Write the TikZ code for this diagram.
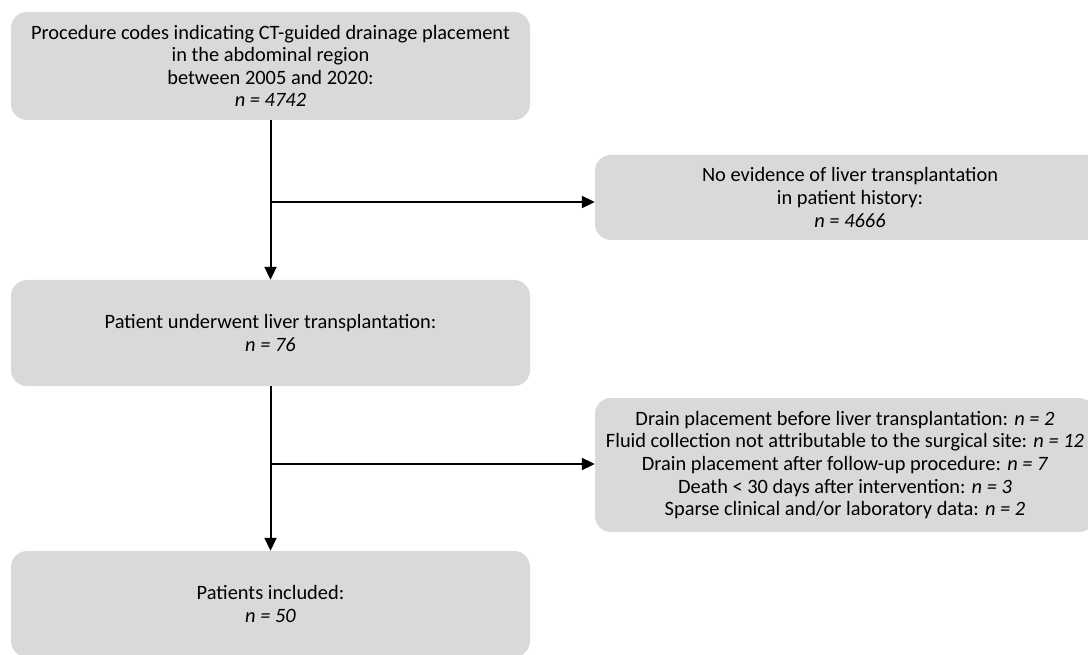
\documentclass[tikz,border=0pt]{standalone}
\usepackage{fontspec}
\setmainfont{Carlito}
\usetikzlibrary{arrows.meta}
\definecolor{boxgray}{HTML}{D9D9D9}
\begin{document}
\begin{tikzpicture}[x=1pt,y=-1pt,
  box/.style={fill=boxgray, rounded corners=16pt, align=center, font=\fontsize{20.4}{22.6}\selectfont, inner sep=0pt},
  arr/.style={line width=2pt, -{Triangle[length=13pt,width=12pt]}}]
\useasboundingbox (0,0) rectangle (1088,655);
\clip (0,0) rectangle (1088,655);
\node[box, minimum width=519pt, minimum height=108pt] (a) at (270.5,66)
  {Procedure codes indicating CT-guided drainage placement\\in the abdominal region\\between 2005 and 2020:\\\textit{n = 4742}};
\node[box, minimum width=519pt, minimum height=106pt] (b) at (270.5,333)
  {Patient underwent liver transplantation:\\\textit{n = 76}};
\node[box, minimum width=519pt, minimum height=106pt] (c) at (270.5,604)
  {Patients included:\\\textit{n = 50}};
\node[box, minimum width=510pt, minimum height=85pt] (r1) at (850,197.5)
  {No evidence of liver transplantation\\in patient history:\\\textit{n = 4666}};
\node[box, minimum width=500pt, minimum height=134pt] (r2) at (845,465)
  {Drain placement before liver transplantation: \textit{n = 2}\\
   Fluid collection not attributable to the surgical site: \textit{n = 12}\\
   Drain placement after follow-up procedure: \textit{n = 7}\\
   Death < 30 days after intervention: \textit{n = 3}\\
   Sparse clinical and/or laboratory data: \textit{n = 2}};
\coordinate (j1) at (270.5,202);
\coordinate (j2) at (270.5,464);
\draw[arr] (a.south) -- (b.north);
\draw[arr] (b.south) -- (c.north);
\draw[arr] (j1) -- (r1.west |- j1);
\draw[arr] (j2) -- (r2.west |- j2);
\end{tikzpicture}
\end{document}
